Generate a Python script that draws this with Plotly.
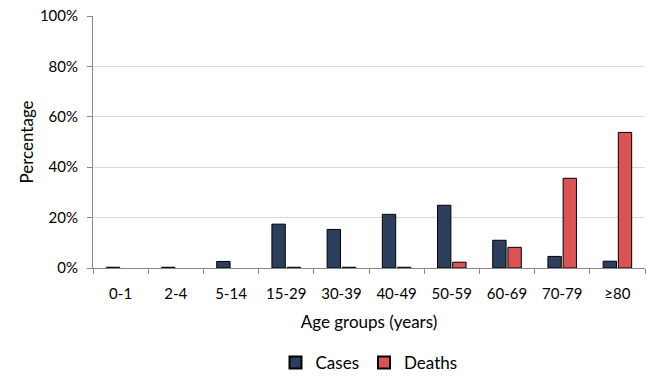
import plotly.graph_objects as go

categories = ["0-1", "2-4", "5-14", "15-29", "30-39", "40-49", "50-59", "60-69", "70-79", "≥80"]
cases = [0.3, 0.3, 2.6, 17.4, 15.3, 21.3, 24.9, 11.0, 4.6, 2.7]
deaths = [None, None, None, 0.3, 0.3, 0.3, 2.3, 8.2, 35.6, 53.8]

font = "Lato"
fig = go.Figure()
fig.add_trace(go.Bar(name="Cases", x=categories, y=cases,
                     marker=dict(color="#2E3F5E", line=dict(color="#000000", width=1))))
fig.add_trace(go.Bar(name="Deaths", x=categories, y=deaths,
                     marker=dict(color="#DC5356", line=dict(color="#000000", width=1))))

fig.update_layout(
    width=646, height=373,
    margin=dict(l=85, r=9, t=8, b=113, autoexpand=False),
    paper_bgcolor="white", plot_bgcolor="white",
    barmode="group", bargap=0.45, bargroupgap=0.12,
    font=dict(family=font, size=15, color="#000000"),
    showlegend=True,
    legend=dict(orientation="h", x=0.5, xanchor="center", y=-0.377, yanchor="middle",
                font=dict(size=17), itemsizing="constant", itemwidth=30, traceorder="normal"),
)
fig.update_xaxes(
    type="category", showline=True, linecolor="#888888", linewidth=1,
    ticks="outside", tickson="boundaries", ticklen=5, tickcolor="#888888",
    tickfont=dict(size=15), ticklabelstandoff=12, automargin=False,
    title=dict(text="Age groups (years)", font=dict(size=17), standoff=15),
)
fig.update_yaxes(
    range=[0, 100], dtick=20, ticksuffix="%",
    showline=True, linecolor="#888888", linewidth=1,
    ticks="outside", ticklen=5, tickcolor="#888888",
    showgrid=True, gridcolor="#D9D9D9", gridwidth=1,
    zeroline=False, tickfont=dict(size=15), ticklabelstandoff=6, automargin=False,
    ticklabeloverflow="allow",
    title=dict(text="Percentage", font=dict(size=17), standoff=1),
)
fig.write_html("out.html")
